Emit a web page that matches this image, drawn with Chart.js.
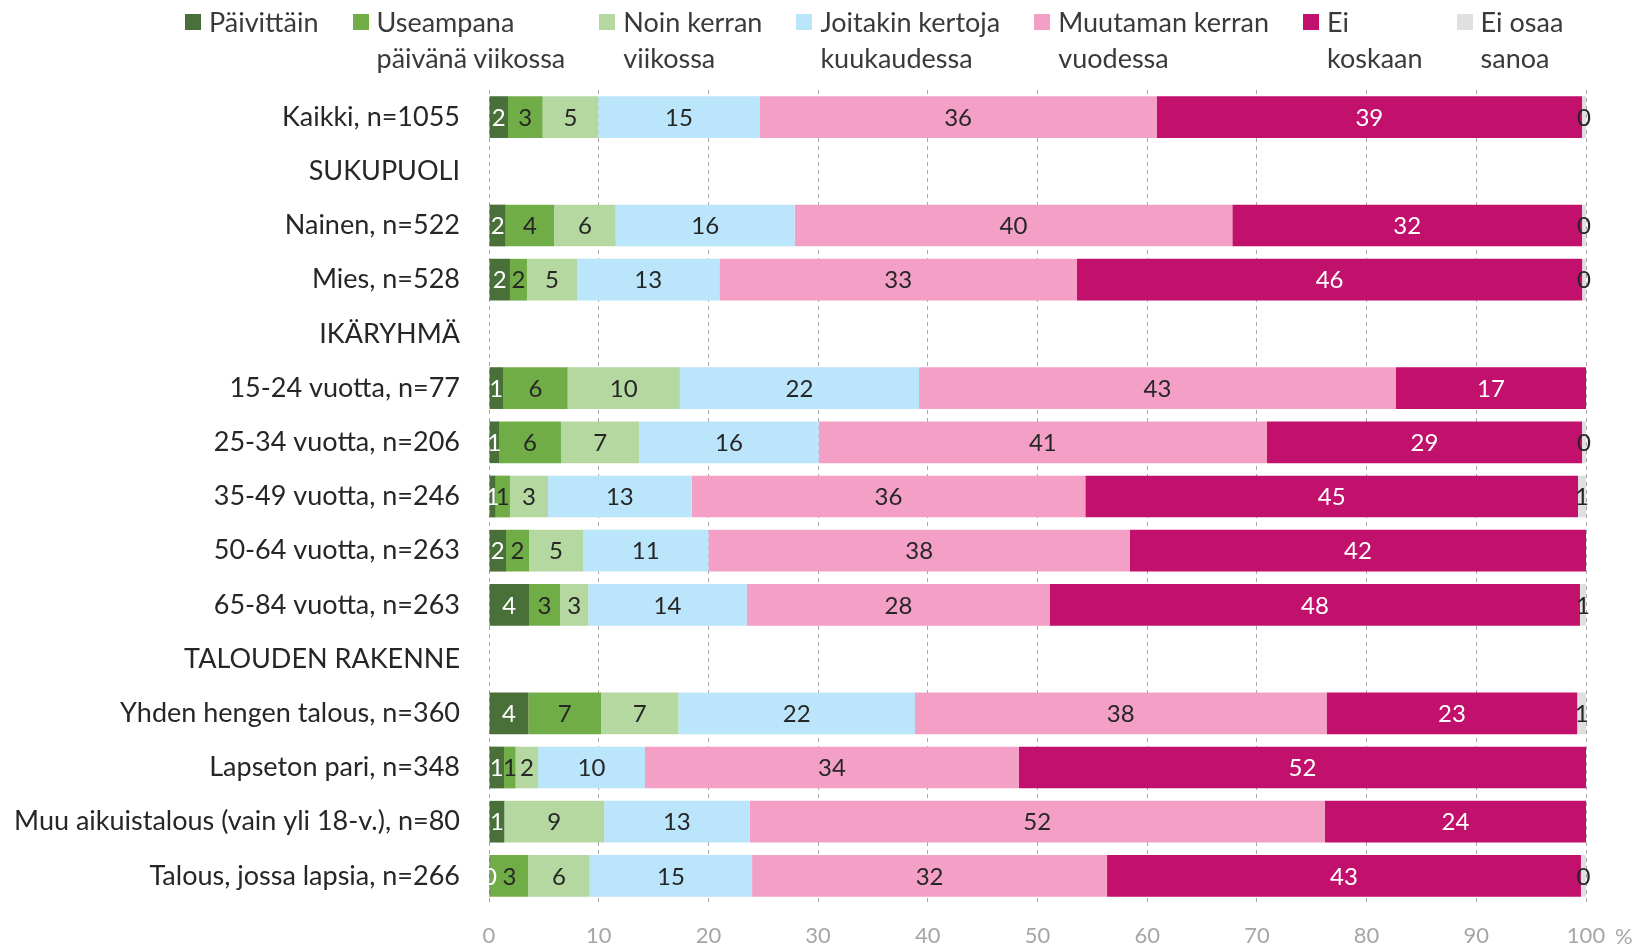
<!DOCTYPE html>
<html>
<head>
<meta charset="utf-8">
<script src="https://cdn.jsdelivr.net/npm/chart.js@4.4.1/dist/chart.umd.min.js"></script>
<style>
    body { margin: 0; background: #fff; }
    #wrap { position: relative; width: 1635px; height: 949px; }
    #legend {
        position: absolute; top: 4px; left: 185px;
        display: flex; gap: 34px;
        font-family: Lato, sans-serif; font-size: 27px; line-height: 36px; color: #3a3a3a;
    }
    .item { display: flex; align-items: flex-start; }
    .box { width: 16px; height: 16px; margin-top: 10px; margin-right: 8px; flex: none; }
</style>
</head>
<body>
<div id="wrap">
    <canvas id="bar_usage_chart" width="1635" height="949"></canvas>
    <div id="legend"></div>
</div>
<script>
const categories = [
    'Kaikki, n=1055', 'SUKUPUOLI', 'Nainen, n=522', 'Mies, n=528', 'IKÄRYHMÄ',
    '15-24 vuotta, n=77', '25-34 vuotta, n=206', '35-49 vuotta, n=246', '50-64 vuotta, n=263',
    '65-84 vuotta, n=263', 'TALOUDEN RAKENNE', 'Yhden hengen talous, n=360', 'Lapseton pari, n=348',
    'Muu aikuistalous (vain yli 18-v.), n=80', 'Talous, jossa lapsia, n=266'
]
const series_names = [
    ['Päivittäin'],
    ['Useampana', 'päivänä viikossa'],
    ['Noin kerran', 'viikossa'],
    ['Joitakin kertoja', 'kuukaudessa'],
    ['Muutaman kerran', 'vuodessa'],
    ['Ei', 'koskaan'],
    ['Ei osaa', 'sanoa']
]
const daily          = [1.73, null, 1.52, 1.91, null, 1.28, 0.91, 0.61, 1.55, 3.65, null, 3.59, 1.37, 1.4, 0.15]
const several_weekly = [3.16, null, 4.41, 1.55, null, 5.89, 5.65, 1.3, 2.1, 2.82, null, 6.62, 1.06, null, 3.41]
const weekly         = [5.07, null, 5.62, 4.56, null, 10.23, 7.14, 3.47, 4.92, 2.58, null, 7.05, 2.04, 9.1, 5.62]
const monthly        = [14.7, null, 16.32, 12.98, null, 21.8, 16.35, 13.1, 11.43, 14.45, null, 21.57, 9.75, 13.25, 14.8]
const yearly         = [36.2, null, 39.89, 32.6, null, 43.48, 40.87, 35.88, 38.43, 27.64, null, 37.52, 34.09, 52.45, 32.36]
const never          = [38.78, null, 31.88, 46.05, null, 17.32, 28.72, 44.91, 41.57, 48.31, null, 22.85, 51.69, 23.8, 43.2]
const dont_know      = [0.36, null, 0.36, 0.35, null, null, 0.36, 0.73, null, 0.55, null, 0.8, null, null, 0.46]
const x_ticks = [0, 10, 20, 30, 40, 50, 60, 70, 80, 90, 100]

const colors = ['#4a7039', '#70ad47', '#b5d7a0', '#bae5fa', '#f4a0c6', '#c1116c', '#e0e0e0']
const label_colors = ['#ffffff', '#262626', '#262626', '#262626', '#262626', '#ffffff', '#262626']
const series_values = [daily, several_weekly, weekly, monthly, yearly, never, dont_know]

// legend as html, labels are two lines
const legend = document.querySelector('#legend')
series_names.forEach((name, i) => {
    const item = document.createElement('div')
    item.className = 'item'
    item.innerHTML = `<span class="box" style="background:${colors[i]}"></span><span>${name.join('<br>')}</span>`
    legend.appendChild(item)
})

const bar_labels = {
    id: 'bar_labels',
    afterDatasetsDraw(chart) {
        const ctx = chart.ctx
        ctx.save()
        ctx.font = '24px Lato'
        ctx.textAlign = 'center'
        ctx.textBaseline = 'middle'
        chart.data.datasets.forEach((ds, i) => {
            chart.getDatasetMeta(i).data.forEach((bar, j) => {
                const v = ds.data[j]
                if (v === null) return
                ctx.fillStyle = label_colors[i]
                ctx.fillText(Math.round(v), (bar.x + bar.base) / 2, bar.y + 1)
            })
        })
        // percent sign after the last tick
        const x = chart.scales.x
        ctx.font = '22px Lato'
        ctx.fillStyle = '#a6a6a6'
        ctx.textAlign = 'left'
        ctx.fillText('%', x.right + 29, x.top + 34)
        ctx.restore()
    }
}

const data_usage = {
    labels: categories,
    datasets: series_values.map((values, i) => ({
        label: series_names[i].join(' '),
        data: values,
        backgroundColor: colors[i],
        categoryPercentage: 1,
        barPercentage: 0.77
    }))
}

const options_usage = {
    responsive: false,
    animation: false,
    indexAxis: 'y',
    layout: {
        padding: { top: 90, right: 49, left: 0, bottom: 0 }
    },
    plugins: {
        legend: false,
        tooltip: { enabled: false }
    },
    scales: {
        x: {
            stacked: true,
            min: 0,
            max: 100,
            afterBuildTicks: scale => {
                scale.ticks = x_ticks.map(v => ({ value: v }))
            },
            afterFit: scale => { scale.height = 46 },
            ticks: {
                color: '#a6a6a6',
                font: { family: 'Lato', size: 22 },
                padding: 20,
                maxRotation: 0
            },
            grid: {
                color: '#a6a6a6',
                drawTicks: false
            },
            border: {
                display: false,
                dash: [4, 4]
            }
        },
        y: {
            stacked: true,
            afterFit: scale => { scale.width = 489 },
            ticks: {
                color: '#262626',
                font: { family: 'Lato', size: 27 },
                padding: 21
            },
            grid: { display: false },
            border: { display: false }
        }
    }
}

new Chart(document.querySelector('#bar_usage_chart'), {
    type: 'bar',
    data: data_usage,
    options: options_usage,
    plugins: [bar_labels]
})
</script>
</body>
</html>
